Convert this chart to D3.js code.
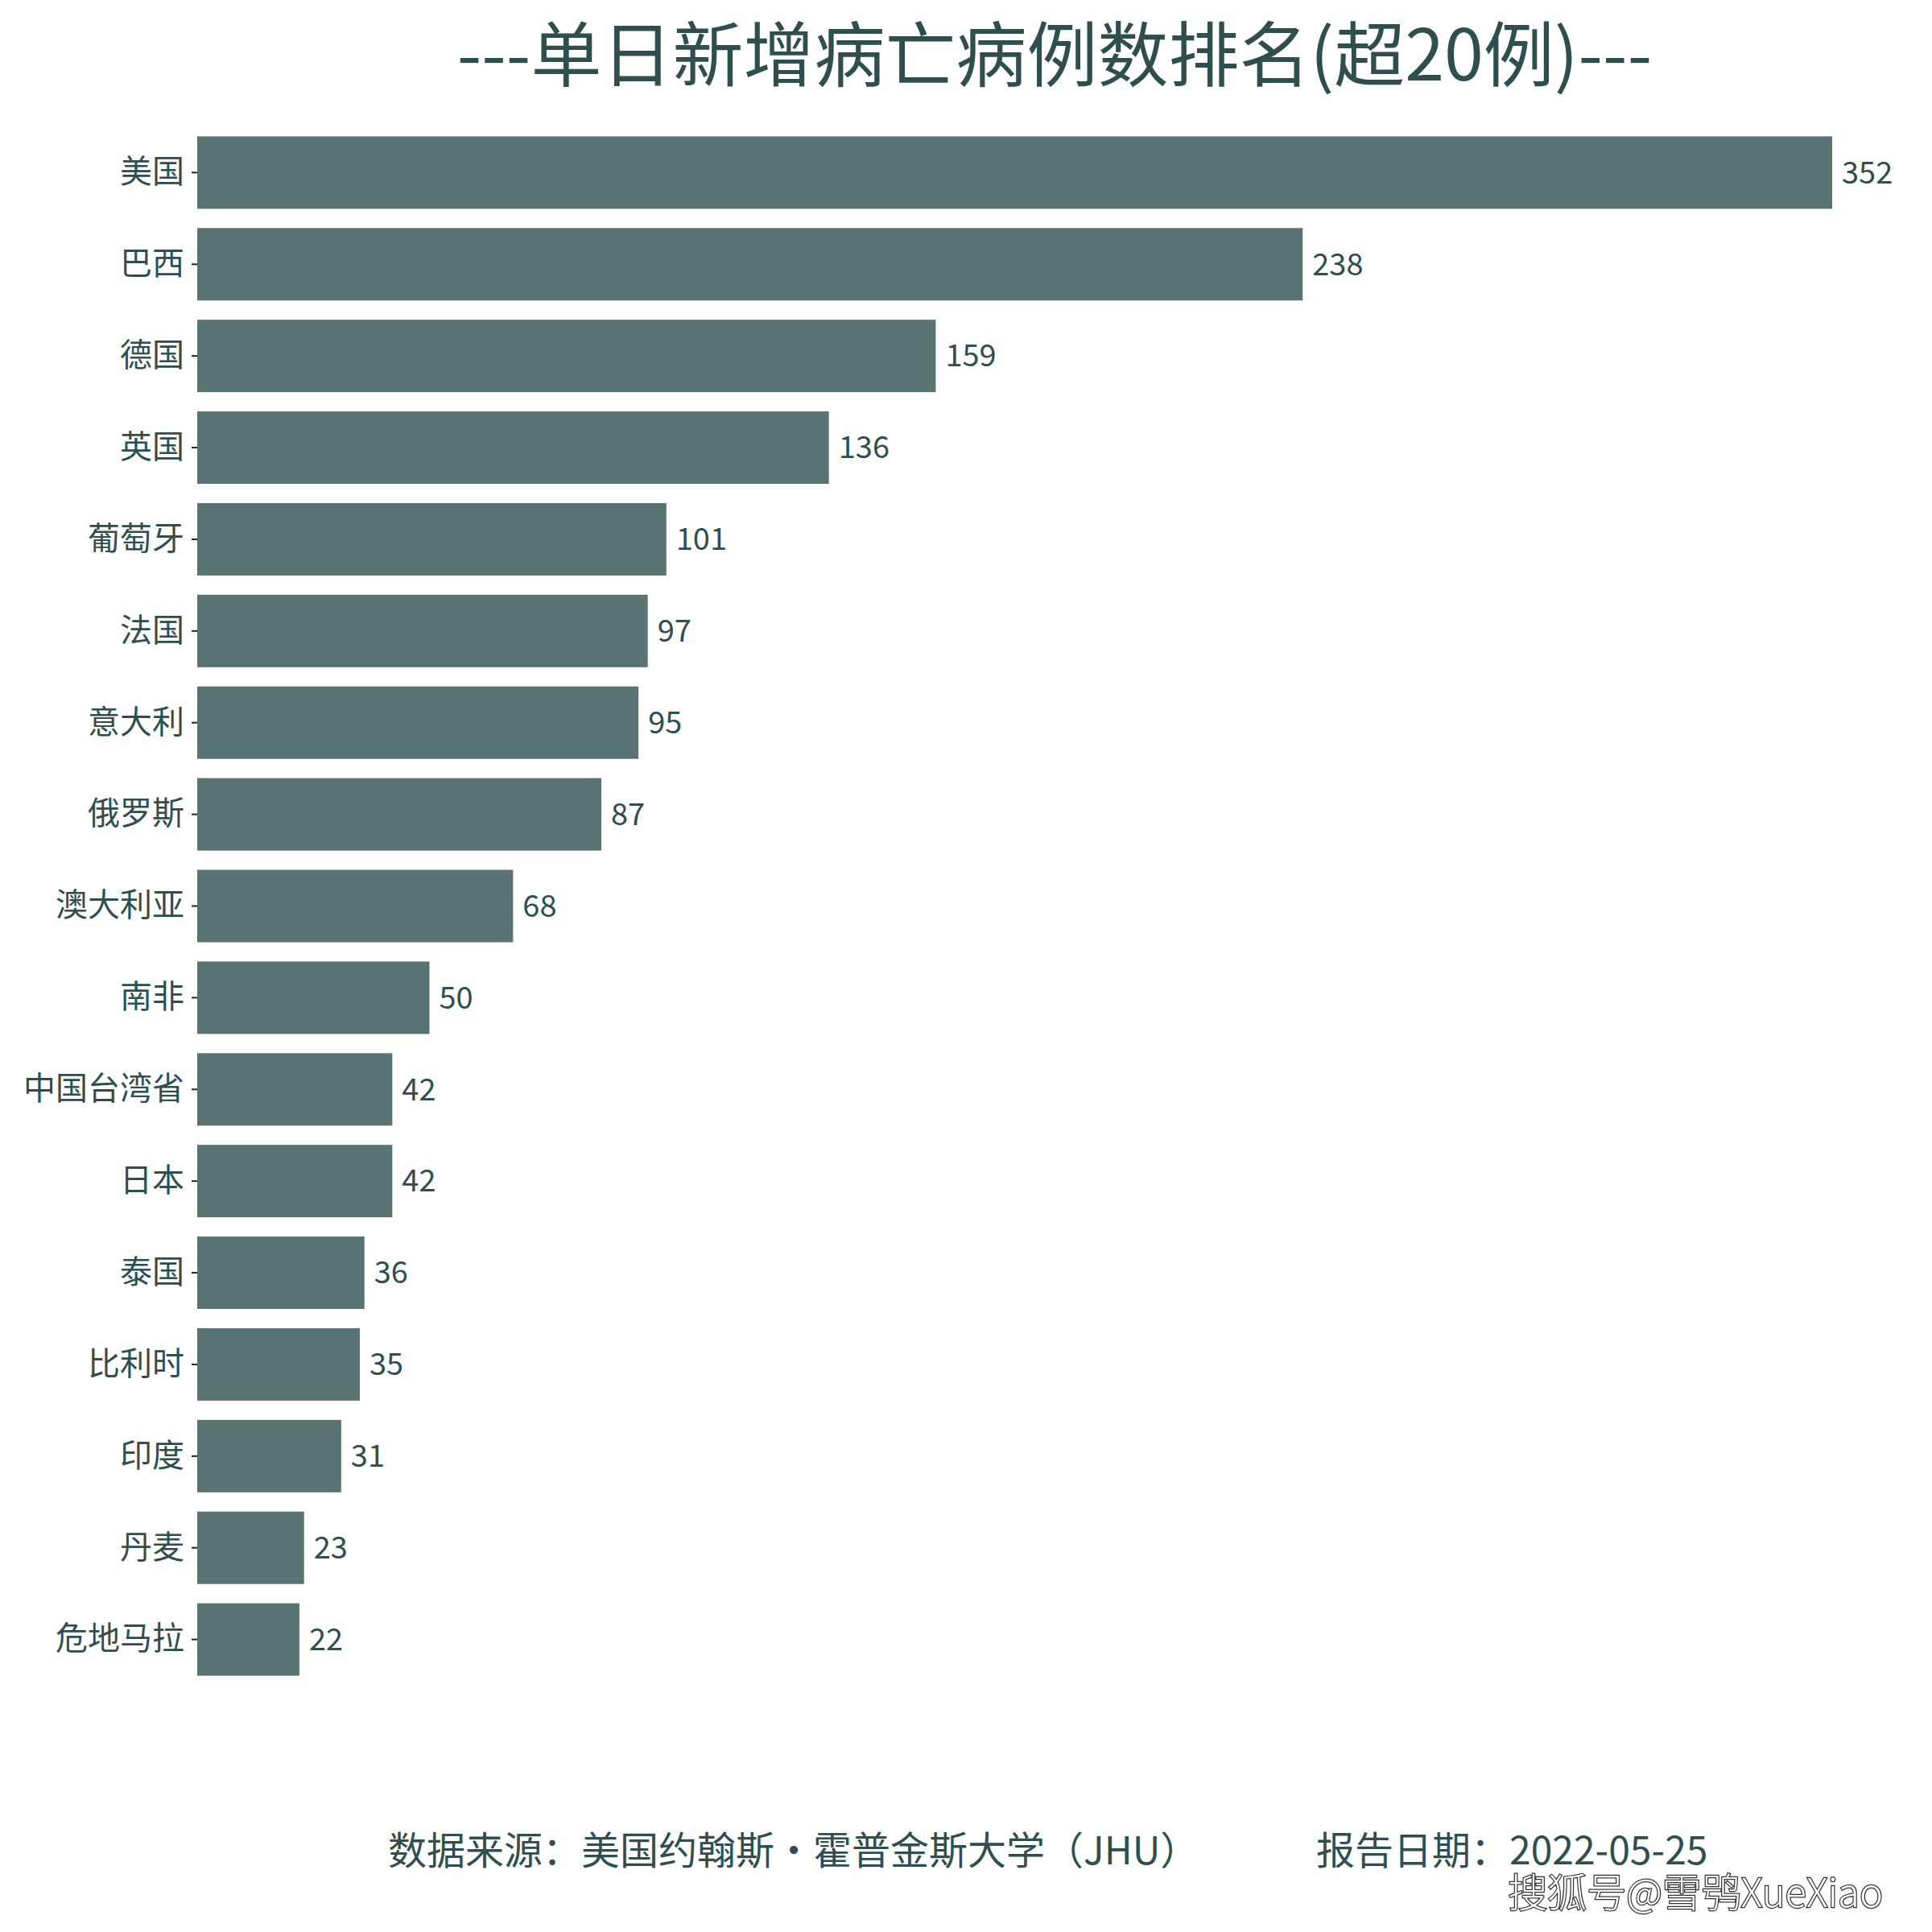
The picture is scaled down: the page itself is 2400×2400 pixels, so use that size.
<!DOCTYPE html>
<html>
<head>
<meta charset="utf-8">
<script src="https://cdn.jsdelivr.net/npm/d3@7"></script>
<style>
html,body{margin:0;padding:0;background:#fff;}
svg{display:block;}
</style>
</head>
<body>
<svg id="chart" width="2400" height="2400"></svg>
<script>
const categories = ["美国","巴西","德国","英国","葡萄牙","法国","意大利","俄罗斯","澳大利亚","南非","中国台湾省","日本","泰国","比利时","印度","丹麦","危地马拉"];
const values = [352,238,159,136,101,97,95,87,68,50,42,42,36,35,31,23,22];
const titleText = "---单日新增病亡病例数排名(超20例)---";
const sourceText = "数据来源：美国约翰斯・霍普金斯大学（JHU）";
const dateText = "报告日期：2022-05-25";
const watermarkText = "搜狐号@雪鸮XueXiao";

const font = "'Noto Sans CJK SC','Noto Sans',sans-serif";
const textColor = "#2f4f4f";
const barColor = "rgb(89,114,114)";

const svg = d3.select("#chart");
const left = 245;

const x = d3.scaleLinear().domain([0, 352]).range([left, 2276]);
const y = d3.scaleBand().domain(categories).range([158, 2093]).paddingInner(0.21).paddingOuter(0.1);

svg.append("g").selectAll("rect").data(categories).join("rect")
  .attr("x", x(0))
  .attr("y", d => y(d))
  .attr("width", (d,i) => x(values[i]) - x(0))
  .attr("height", y.bandwidth())
  .attr("fill", barColor);

const yAxis = d3.axisLeft(y).tickSize(7).tickPadding(9);
const ga = svg.append("g").attr("transform", `translate(${left},0)`).call(yAxis);
ga.select(".domain").remove();
ga.selectAll(".tick line").attr("stroke", "#222").attr("stroke-width", 2);
ga.selectAll(".tick text").attr("font-family", font).attr("font-size", 40).attr("fill", textColor);

svg.append("g").selectAll("text").data(categories).join("text")
  .attr("x", (d,i) => x(values[i]) + 12)
  .attr("y", d => y(d) + y.bandwidth()/2)
  .attr("dy", "0.35em")
  .attr("font-family", font)
  .attr("font-size", 38)
  .attr("fill", textColor)
  .text((d,i) => values[i]);

svg.append("text")
  .attr("x", 1310).attr("y", 100)
  .attr("text-anchor", "middle")
  .attr("font-family", font).attr("font-size", 88)
  .attr("fill", textColor)
  .text(titleText);

svg.append("text")
  .attr("x", 482).attr("y", 2316)
  .attr("font-family", font).attr("font-size", 48)
  .attr("fill", textColor)
  .text(sourceText);

svg.append("text")
  .attr("x", 1635).attr("y", 2316)
  .attr("font-family", font).attr("font-size", 48)
  .attr("fill", textColor)
  .text(dateText);

svg.append("text")
  .attr("x", 2339).attr("y", 2369)
  .attr("text-anchor", "end")
  .attr("font-family", "'Noto Sans CJK SC',sans-serif").attr("font-size", 49)
  .attr("font-weight", 300)
  .attr("fill", "#fff")
  .attr("stroke", "#333").attr("stroke-width", 2.5)
  .attr("paint-order", "stroke")
  .text(watermarkText);
</script>
</body>
</html>
